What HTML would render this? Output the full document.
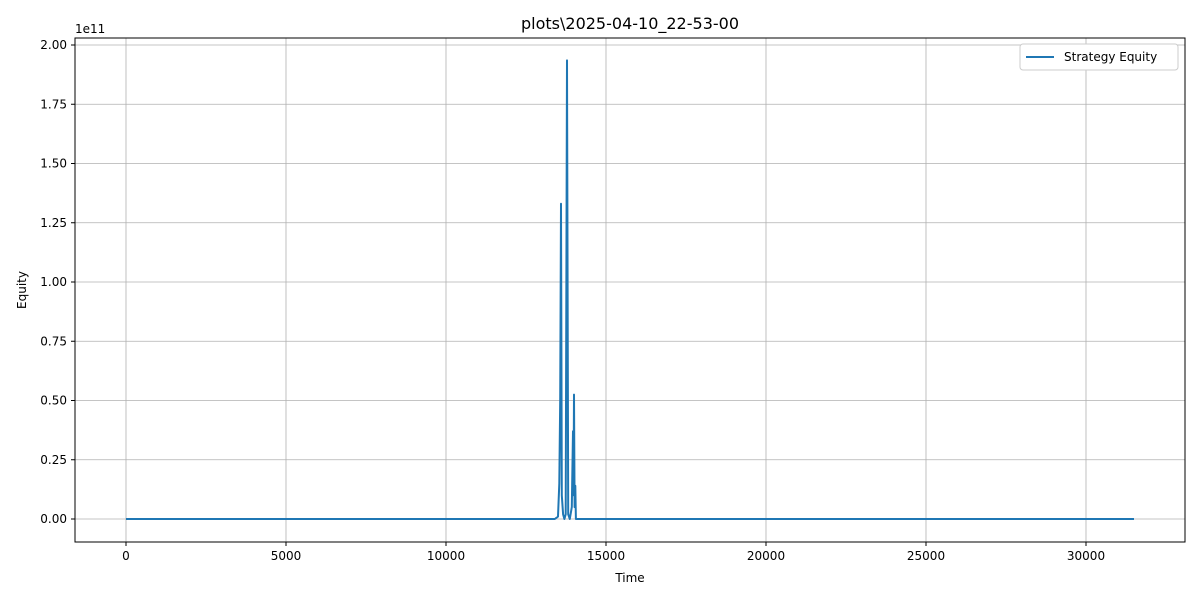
<!DOCTYPE html>
<html><head><meta charset="utf-8"><style>
body{margin:0;background:#fff;font-family:"Liberation Sans","DejaVu Sans",sans-serif}
svg text{font-family:"DejaVu Sans","Liberation Sans",sans-serif;font-size:12px;fill:#000}
</style></head><body>
<svg width="1200" height="600">
<rect x="0" y="0" width="1200" height="600" fill="#fff"/>
<text x="630" y="29" text-anchor="middle" style="font-size:16px">plots\2025-04-10_22-53-00</text>
<g id="grid"></g><g id="axes"></g>
<path id="line" fill="none" stroke="#1f77b4" stroke-width="2" stroke-linejoin="round"/>
<rect x="75" y="38" width="1110" height="504" fill="none" stroke="#000" stroke-width="1"/>
<text x="75" y="33" style="font-size:12px">1e11</text>
<text x="630" y="582" text-anchor="middle">Time</text>
<text x="26" y="290" text-anchor="middle" transform="rotate(-90 26 290)">Equity</text>
<g>
<rect x="1020" y="44" width="158" height="26" rx="3" fill="#fff" stroke="#ccc"/>
<line x1="1026" y1="57" x2="1054" y2="57" stroke="#1f77b4" stroke-width="2"/>
<text x="1064" y="61">Strategy Equity</text>
</g>
</svg>
<script>
const xTicks=[0,5000,10000,15000,20000,25000,30000];
const yTicks=[0,0.25,0.5,0.75,1.0,1.25,1.5,1.75,2.0];
const times=[0,13400,13500,13540,13570,13594,13620,13660,13700,13740,13781,13820,13870,13930,13970,13985,14000,14020,14040,14060,31500];
const equity=[0,0,0.01,0.15,0.5,1.33,0.1,0.02,0,0.02,1.935,0.02,0,0.05,0.37,0.1,0.525,0.05,0.14,0,0];
const X=t=>126+t*0.032;
const Y=v=>519-v*237;
const ns="http://www.w3.org/2000/svg";
const g=document.getElementById('grid'),a=document.getElementById('axes');
function mk(tag,attrs,parent){const e=document.createElementNS(ns,tag);for(const k in attrs)e.setAttribute(k,attrs[k]);parent.appendChild(e);return e;}
xTicks.forEach(t=>{
 const l=mk('line',{x1:X(t),x2:X(t),y1:38,y2:542,stroke:'#b0b0b0','stroke-width':0.8},g);
 
 
 mk('line',{x1:X(t),x2:X(t),y1:542,y2:546,stroke:'#000'},a);
 const tx=mk('text',{x:X(t),y:560,'text-anchor':'middle'},a);tx.textContent=t;
 
 
});
yTicks.forEach(v=>{
 const l=mk('line',{x1:75,x2:1185,y1:Y(v),y2:Y(v),stroke:'#b0b0b0','stroke-width':0.8},g);
 
 
 mk('line',{x1:71,x2:75,y1:Y(v),y2:Y(v),stroke:'#000'},a);
 const tx=mk('text',{x:67,y:Y(v)+4,'text-anchor':'end'},a);tx.textContent=v.toFixed(2);
 
 
});
document.getElementById('line').setAttribute('d',times.map((t,i)=>(i?'L':'M')+X(t).toFixed(1)+' '+Y(equity[i]).toFixed(1)).join(' '));
</script>
</body></html>
